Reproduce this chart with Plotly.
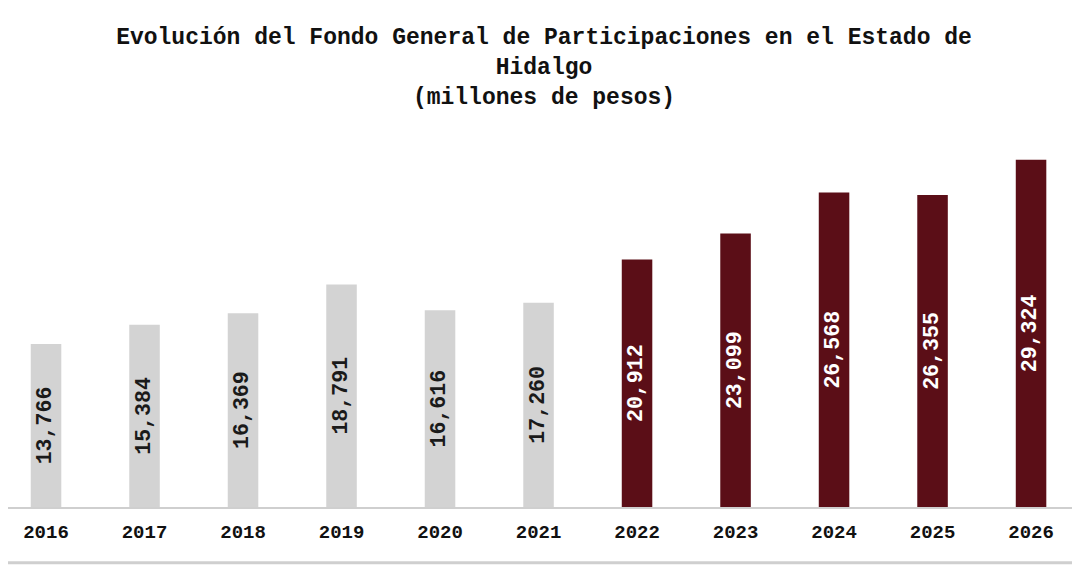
import plotly.graph_objects as go

# Fondo General de Participaciones, Hidalgo (millones de pesos)
years = ['2016', '2017', '2018', '2019', '2020', '2021',
         '2022', '2023', '2024', '2025', '2026']
values = [13766, 15384, 16369, 18791, 16616, 17260,
          20912, 23099, 26568, 26355, 29324]

gray = '#D3D3D3'
maroon = '#5B0E17'
bar_colors = [gray if int(y) < 2022 else maroon for y in years]
text_colors = ['#1a1a1a' if int(y) < 2022 else 'white' for y in years]

fig = go.Figure(go.Bar(
    x=years,
    y=values,
    marker=dict(color=bar_colors, line=dict(width=0)),
    width=0.31,
    texttemplate='%{y:,.0f}',
    textposition='inside',
    insidetextanchor='middle',
    textangle=-90,
    textfont=dict(family='Liberation Mono', size=22, color=text_colors, weight='bold'),
    hoverinfo='skip',
))

# the page body adds an 8px margin, so the figure is sized to the visible area
fig.update_layout(
    title=dict(
        text='Evolución del Fondo General de Participaciones en el Estado de<br>Hidalgo<br>(millones de pesos)',
        font=dict(family='Liberation Mono', size=23, color='#111111', weight='bold'),
        x=0.5,
        xanchor='center',
        y=0.935,
        yanchor='top',
    ),
    xaxis=dict(
        type='category',
        range=[-0.386, 10.497],
        showline=True,
        linecolor='#CFCFCF',
        linewidth=2,
        showgrid=False,
        ticks='',
        ticklabelstandoff=6,
        tickfont=dict(family='Liberation Mono', size=19, color='#111111', weight='bold'),
    ),
    yaxis=dict(
        range=[0, 31000],
        visible=False,
        showgrid=False,
        zeroline=False,
    ),
    shapes=[
        dict(type='line', xref='paper', yref='paper', x0=-0.01, x1=1.01, y0=-0.152, y1=-0.152,
             line=dict(color='#CFCFCF', width=3)),
    ],
    width=1072,
    height=558,
    margin=dict(l=0, r=0, t=132, b=59),
    plot_bgcolor='white',
    paper_bgcolor='white',
    showlegend=False,
)

fig.write_html('out.html')
